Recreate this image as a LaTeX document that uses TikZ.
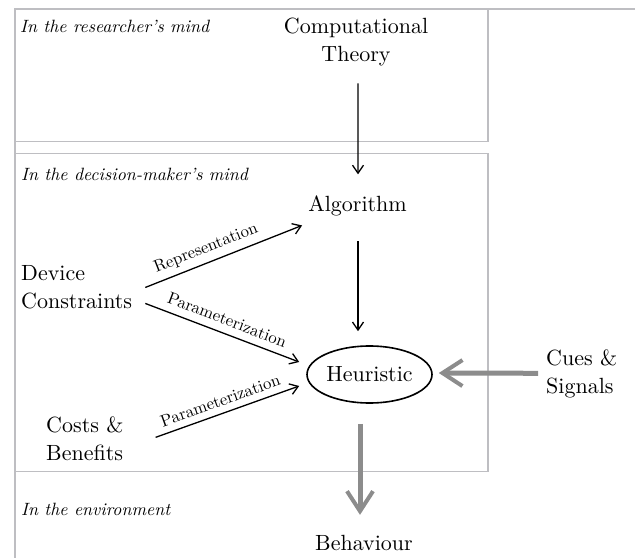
\documentclass[tikz,border=0pt]{standalone}
\usepackage{fontspec}
\setmainfont{lmroman10}[Extension=.otf, UprightFont=*-regular, ItalicFont=*-italic, BoldFont=*-bold, BoldItalicFont=*-bolditalic, Ligatures=TeX]
\usetikzlibrary{arrows.meta,calc,shapes.geometric}
\definecolor{boxgray}{RGB}{190,190,194}
\definecolor{arrgray}{RGB}{140,140,140}
\begin{document}
\begin{tikzpicture}[x=1bp,y=-1bp,
  frame/.style={draw=boxgray,line width=1.8bp},
  big/.style={font=\fontsize{22bp}{28.5bp}\selectfont, inner sep=0pt},
  region/.style={font=\fontsize{17.8bp}{21bp}\selectfont\itshape, inner sep=0pt, anchor=base west},
  lab/.style={font=\fontsize{16.8bp}{19bp}\selectfont, inner sep=0pt, text depth=0pt, sloped},
  thinarrow/.style={draw=black, line width=1.3bp, -{Straight Barb[length=8bp,width=11bp]}},
  fatarrow/.style={draw=arrgray, line width=5bp, -{Straight Barb[length=20bp,width=26bp,line width=4bp]}}]
\useasboundingbox (0,0) rectangle (635,558);
% frames
\draw[frame] (15,9) -- (640,9);
\draw[frame] (15,9) -- (15,565);
\draw[frame] (15,9) rectangle (488,141.5);
\draw[frame] (15,153.5) rectangle (488,471.5);
% nodes
\node[region] (lr) at (20,33) {In the researcher's mind};
\node[big, anchor=north, align=center] (ct) at (356,17.7) {Computational\\Theory};
\node[region] (ldm) at (21,181) {In the decision-maker's mind};
\node[big, anchor=base] (alg) at (357.5,212) {Algorithm};
\node[big, anchor=north west, align=left] (dc) at (21,265) {Device\\Constraints};
\node[big, anchor=north west, align=left] (cb) at (46,416.5) {Costs \&\\Benefits};
\node[big, ellipse, draw, line width=1.6bp, minimum width=125bp, minimum height=57bp] (heur) at (369.5,374.5) {Heuristic};
\node[big, anchor=north west, align=left] (cs) at (546,349.5) {Cues \&\\Signals};
\node[region] (lenv) at (21,515) {In the environment};
\node[big, anchor=base] (beh) at (364,550) {Behaviour};
% connectors
\draw[thinarrow] ($(ct.south)+(2,16.7)$) -- ($(alg.north)+(0.5,-21.7)$);
\draw[thinarrow] ($(alg.south)+(0.5,24.7)$) -- ($(heur.north -| alg.south)+(0.5,-14)$);
\draw[thinarrow] ($(dc.east)+(13,0.25)$) -- node[lab, above=9bp, pos=0.42]{Representation} ($(alg.south west)+(-6,8.7)$);
\draw[thinarrow] ($(dc.east)+(13,16.25)$) -- node[lab, above=7.5bp, pos=0.5]{Parameterization} ($(heur.west)+(-7,-12.5)$);
\draw[thinarrow] ($(cb.east)+(32,-1.6)$) -- node[lab, above=6.5bp, pos=0.48]{Parameterization} ($(heur.west)+(-7,11.5)$);
\draw[fatarrow] ($(cs.west)+(-8,-0.8)$) -- ($(heur.east)+(6,-1.5)$);
\draw[fatarrow] ($(heur.south)+(-9.5,20)$) -- ($(beh.north)+(-4,-19.7)$);
\end{tikzpicture}
\end{document}
